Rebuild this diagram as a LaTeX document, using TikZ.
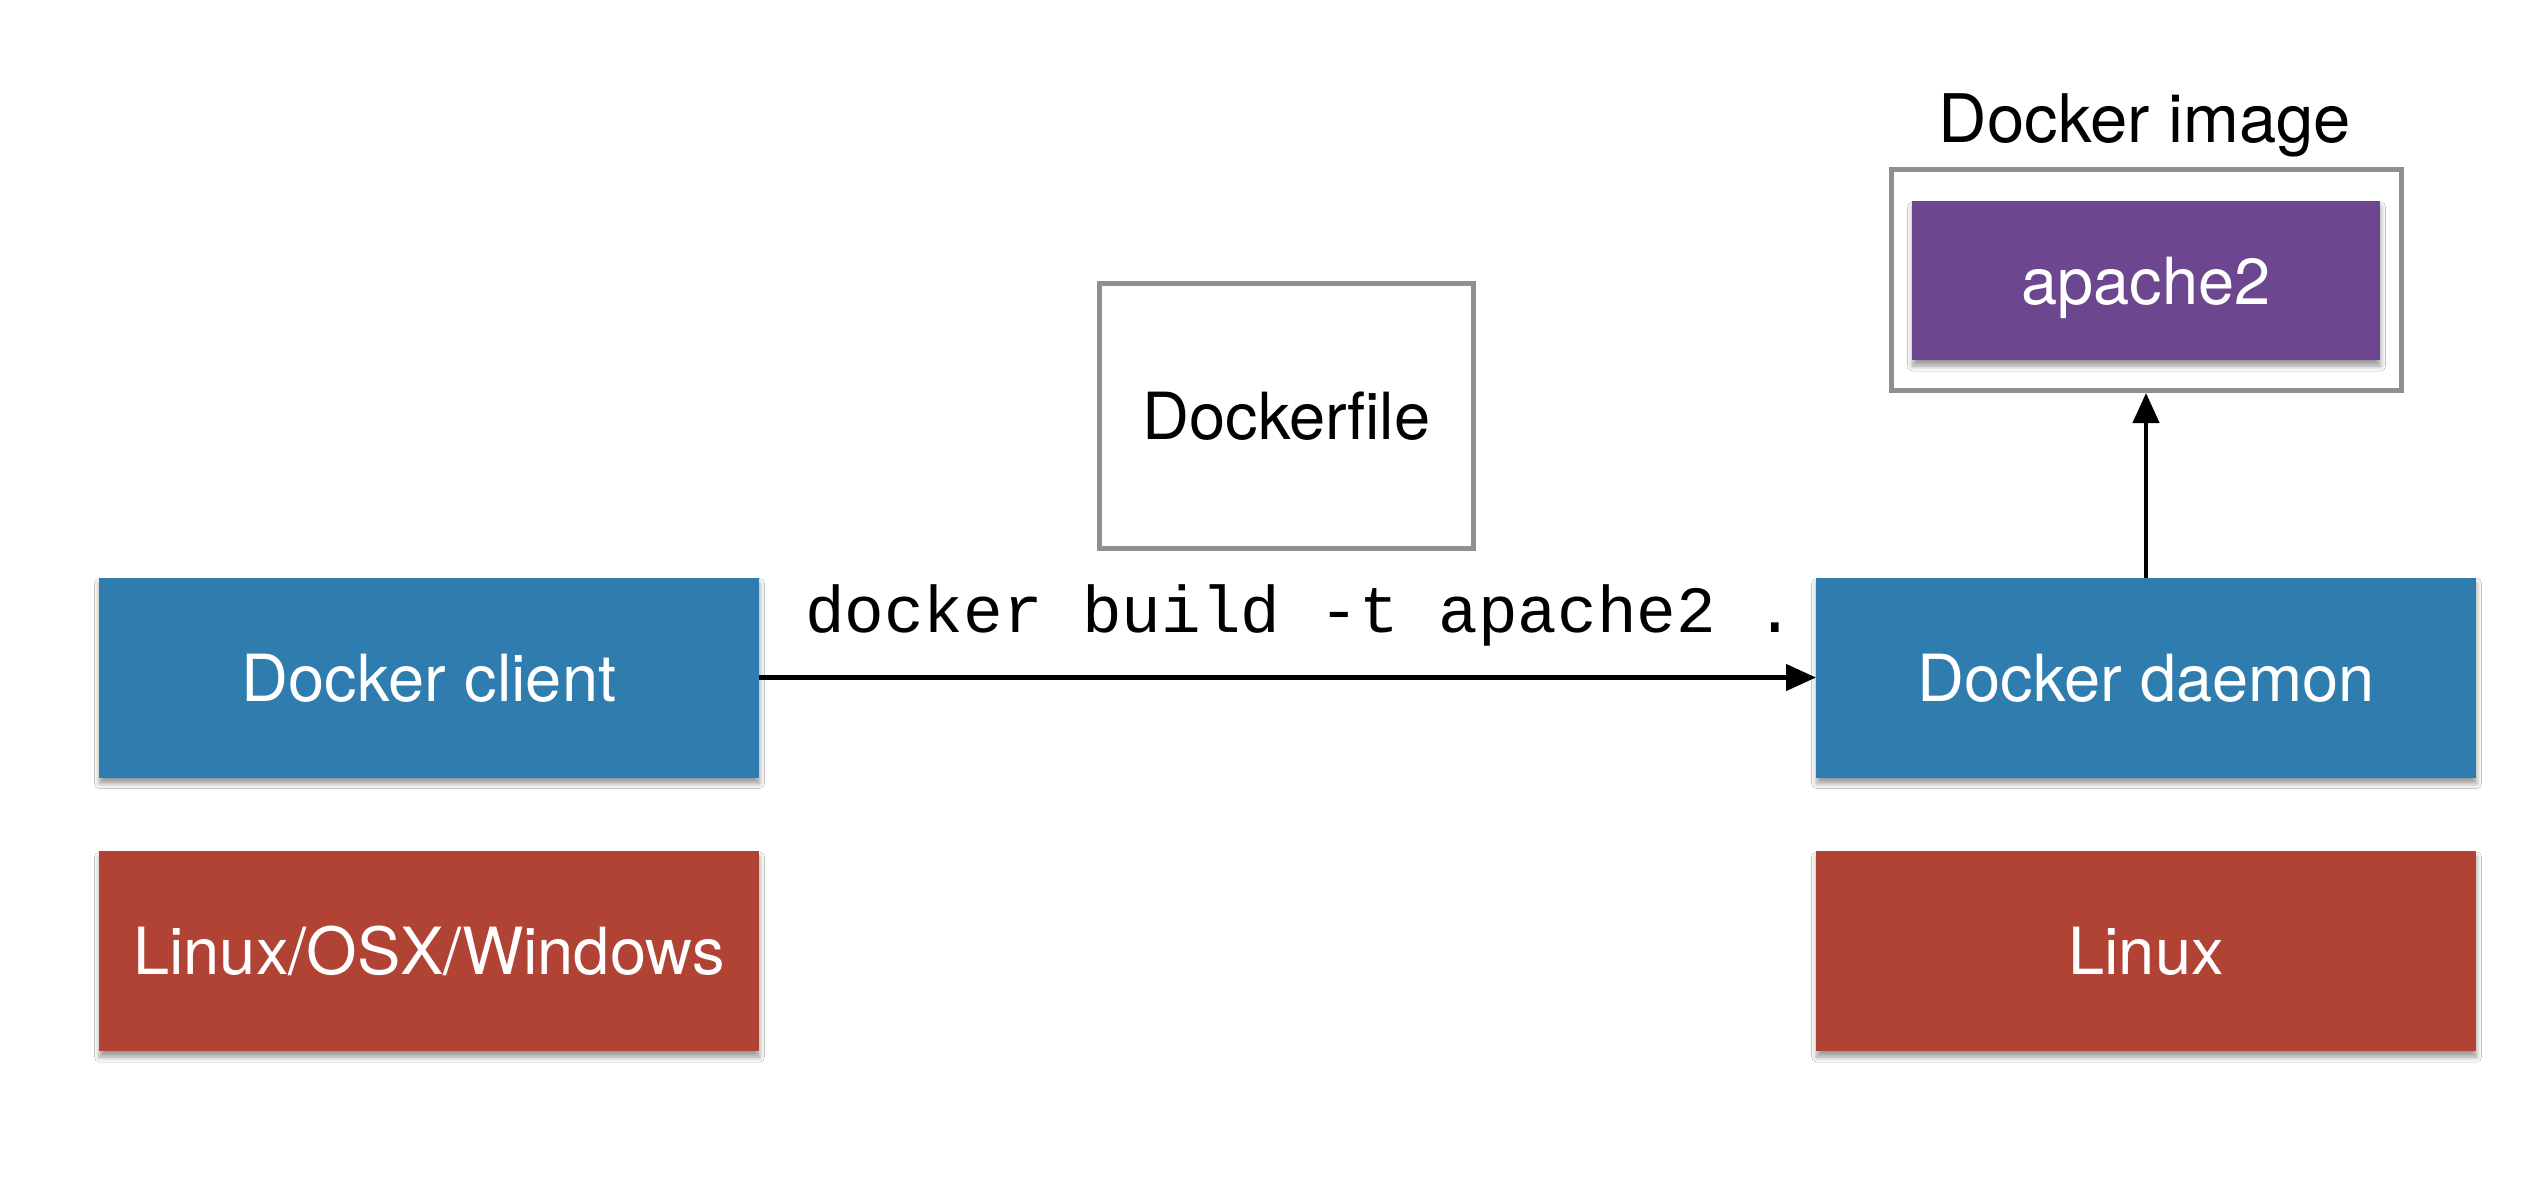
\documentclass[tikz,border=0pt]{standalone}
\usepackage{fontspec}
\setmainfont{TeX Gyre Heros}
\setmonofont{Liberation Mono}
\usetikzlibrary{arrows.meta,shadows.blur}
\definecolor{dkblue}{HTML}{2F7DAF}
\definecolor{dkred}{HTML}{B14334}
\definecolor{dkpurple}{HTML}{6C468F}
\definecolor{framegray}{HTML}{8E9093}
\newcommand\sansbig{\fontsize{65pt}{78pt}\selectfont}
\newcommand\monobig{\fontsize{66pt}{78pt}\selectfont\ttfamily}
\begin{document}
\begin{tikzpicture}[x=1pt,y=-1pt,
  every node/.style={inner sep=0pt, outer sep=0pt},
  labeltext/.style={font=\sansbig, text height=47pt, text depth=0pt, align=center},
  shadowed/.style={blur shadow={shadow xshift=0.5pt, shadow yshift=-6pt, shadow blur radius=5pt, shadow blur steps=6, shadow opacity=40}},
  solidbox/.style={labeltext, text=white, minimum width=660pt, minimum height=200pt, shadowed},
  bluebox/.style={solidbox, fill=dkblue},
  redbox/.style={solidbox, fill=dkred},
  framebox/.style={labeltext, draw=framegray, line width=5pt, fill=white},
  arr/.style={line width=4.5pt, -{Triangle[length=30pt,width=26pt]}}
]
\useasboundingbox[fill=white] (0,0) rectangle (2540,1176);

\node[bluebox] (client) at (429,677.5) {Docker client};
\node[redbox] (clientos) at (429,951) {Linux/OSX/Windows};
\node[bluebox] (daemon) at (2146,677.5) {Docker daemon};
\node[redbox] (daemonos) at (2146,951) {Linux};

\node[framebox, minimum width=374pt, minimum height=265pt] (dockerfile) at (1286.5,416) {Dockerfile};

\node[framebox, minimum width=510pt, minimum height=221pt] (image) at (2146,280) {};
\node[labeltext, text=white, fill=dkpurple, minimum width=468pt, minimum height=159pt, shadowed] (apache) at (2146,280.5) {apache2};
\node[font=\fontsize{67pt}{78pt}\selectfont, anchor=base] (imagelabel) at (2145,142) {Docker image};

\node[font=\monobig, anchor=base west] (cmd) at (805,632) {docker build -t apache2 .};

\draw[arr] (client) -- (daemon);
\draw[arr, shorten >=2.5pt] (daemon.north) -- (image.south);
\end{tikzpicture}
\end{document}
